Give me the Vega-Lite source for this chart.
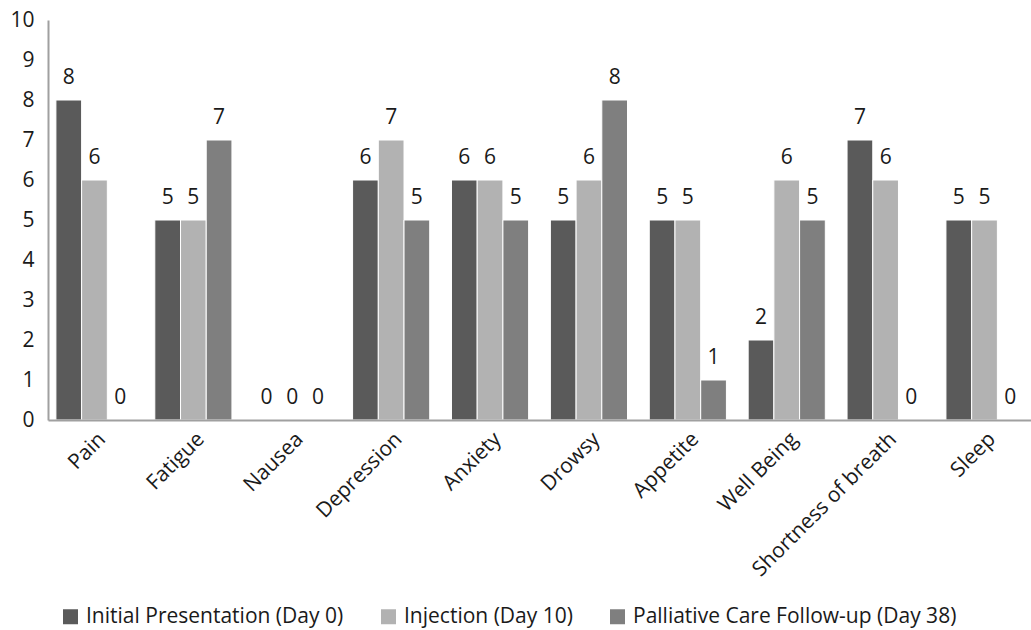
{
  "$schema": "https://vega.github.io/schema/vega-lite/v6.json",
  "width": 983,
  "height": 400,
  "autosize": "none",
  "padding": {"left": 48, "top": 20, "right": 0, "bottom": 210},
  "background": "white",
  "config": {
    "font": "Open Sans",
    "view": {"stroke": null},
    "axis": {"labelFont": "Open Sans", "labelColor": "#1a1a1a", "domainColor": "#a0a0a0", "domainWidth": 2, "ticks": false, "grid": false, "title": null}
  },
  "data": {"values": [
    {"category": "Pain", "series": "Initial Presentation (Day 0)", "value": 8},
    {"category": "Pain", "series": "Injection (Day 10)", "value": 6},
    {"category": "Pain", "series": "Palliative Care Follow-up (Day 38)", "value": 0},
    {"category": "Fatigue", "series": "Initial Presentation (Day 0)", "value": 5},
    {"category": "Fatigue", "series": "Injection (Day 10)", "value": 5},
    {"category": "Fatigue", "series": "Palliative Care Follow-up (Day 38)", "value": 7},
    {"category": "Nausea", "series": "Initial Presentation (Day 0)", "value": 0},
    {"category": "Nausea", "series": "Injection (Day 10)", "value": 0},
    {"category": "Nausea", "series": "Palliative Care Follow-up (Day 38)", "value": 0},
    {"category": "Depression", "series": "Initial Presentation (Day 0)", "value": 6},
    {"category": "Depression", "series": "Injection (Day 10)", "value": 7},
    {"category": "Depression", "series": "Palliative Care Follow-up (Day 38)", "value": 5},
    {"category": "Anxiety", "series": "Initial Presentation (Day 0)", "value": 6},
    {"category": "Anxiety", "series": "Injection (Day 10)", "value": 6},
    {"category": "Anxiety", "series": "Palliative Care Follow-up (Day 38)", "value": 5},
    {"category": "Drowsy", "series": "Initial Presentation (Day 0)", "value": 5},
    {"category": "Drowsy", "series": "Injection (Day 10)", "value": 6},
    {"category": "Drowsy", "series": "Palliative Care Follow-up (Day 38)", "value": 8},
    {"category": "Appetite", "series": "Initial Presentation (Day 0)", "value": 5},
    {"category": "Appetite", "series": "Injection (Day 10)", "value": 5},
    {"category": "Appetite", "series": "Palliative Care Follow-up (Day 38)", "value": 1},
    {"category": "Well Being", "series": "Initial Presentation (Day 0)", "value": 2},
    {"category": "Well Being", "series": "Injection (Day 10)", "value": 6},
    {"category": "Well Being", "series": "Palliative Care Follow-up (Day 38)", "value": 5},
    {"category": "Shortness of breath", "series": "Initial Presentation (Day 0)", "value": 7},
    {"category": "Shortness of breath", "series": "Injection (Day 10)", "value": 6},
    {"category": "Shortness of breath", "series": "Palliative Care Follow-up (Day 38)", "value": 0},
    {"category": "Sleep", "series": "Initial Presentation (Day 0)", "value": 5},
    {"category": "Sleep", "series": "Injection (Day 10)", "value": 5},
    {"category": "Sleep", "series": "Palliative Care Follow-up (Day 38)", "value": 0}
  ]},
  "encoding": {
    "x": {
      "field": "category", "type": "nominal", "sort": null,
      "scale": {"paddingInner": 0.22, "paddingOuter": 0.08},
      "axis": {"labelAngle": -45, "labelFontSize": 21, "labelPadding": 8, "labelAlign": "right", "labelBaseline": "top", "labelLimit": 0, "zindex": 2}
    },
    "xOffset": {"field": "series", "type": "nominal", "sort": ["Initial Presentation (Day 0)", "Injection (Day 10)", "Palliative Care Follow-up (Day 38)"], "scale": {"paddingInner": 0, "paddingOuter": 0}},
    "y": {
      "field": "value", "type": "quantitative",
      "scale": {"domain": [0, 10], "nice": false},
      "axis": {"values": [0,1,2,3,4,5,6,7,8,9,10], "labelFontSize": 21, "labelPadding": 14, "zindex": 2}
    }
  },
  "layer": [
    {
      "mark": {"type": "bar", "stroke": "white", "strokeWidth": 1},
      "encoding": {
        "color": {
          "field": "series", "type": "nominal",
          "scale": {
            "domain": ["Initial Presentation (Day 0)", "Injection (Day 10)", "Palliative Care Follow-up (Day 38)"],
            "range": ["#5a5a5a", "#b2b2b2", "#7f7f7f"]
          },
          "legend": {
            "title": null, "orient": "none", "direction": "horizontal",
            "legendX": 12, "legendY": 586,
            "symbolType": "square", "symbolSize": 225, "symbolStrokeWidth": 0,
            "labelFontSize": 21, "labelColor": "#1a1a1a", "labelFont": "Open Sans", "labelLimit": 0,
            "columnPadding": 34, "labelOffset": 5
          }
        }
      }
    },
    {
      "mark": {"type": "text", "baseline": "alphabetic", "dy": -16, "fontSize": 21, "color": "#1a1a1a", "font": "Open Sans"},
      "encoding": {"text": {"field": "value", "type": "quantitative"}}
    }
  ]
}
